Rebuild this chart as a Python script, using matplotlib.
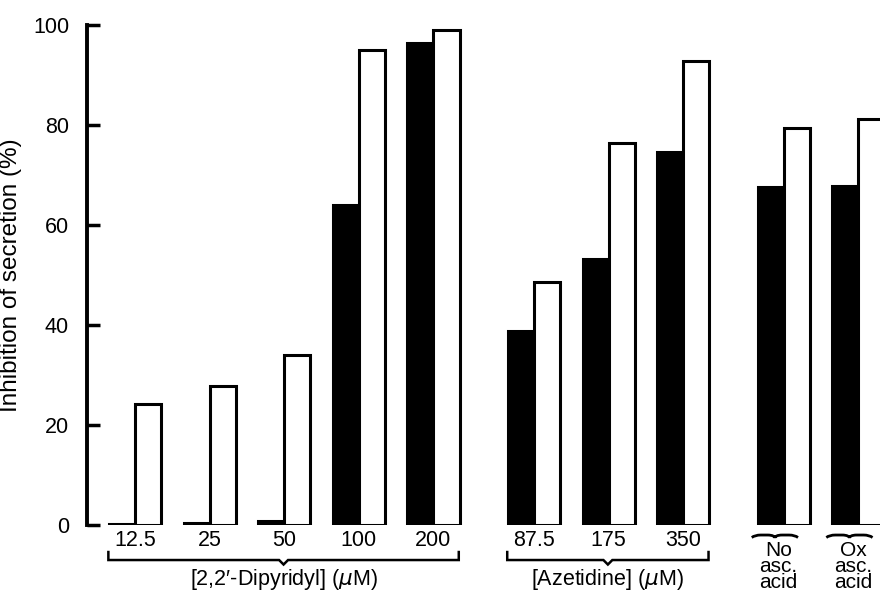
import numpy as np
import matplotlib
matplotlib.use("Agg")
import matplotlib.pyplot as plt
import matplotlib.patches as patches
import matplotlib.path as path

plt.rcParams['font.family'] = ['Liberation Sans', 'DejaVu Sans']

# data
labels = ['12.5', '25', '50', '100', '200', '87.5', '175', '350',
          'No\nasc.\nacid', 'Ox\nasc.\nacid']
black = [0.3, 0.4, 0.8, 64.0, 96.3, 38.9, 53.2, 74.6, 67.7, 67.8]
white = [24.3, 27.9, 34.0, 94.9, 99.0, 48.6, 76.4, 92.7, 79.3, 81.1]
groups = [0, 0, 0, 0, 0, 1, 1, 1, 2, 2]
bracket_names = ['[2,2\u2032-Dipyridyl] ($\\mu$M)', '[Azetidine] ($\\mu$M)']

# layout
gap = 0.35
w = 0.35
pos = np.arange(len(labels)) + gap*np.array(groups)

fig = plt.figure(figsize=(8.8, 5.95), dpi=100)
ax = fig.add_axes([0.099, 0.1176, 0.901, 0.8404])

ax.bar(pos - w/2, black, w, color='black', edgecolor='black', lw=2.2)
ax.bar(pos + w/2, white, w, color='white', edgecolor='black', lw=2.2)

ax.set_xlim(-0.645, 9.99)
ax.set_ylim(0, 100)
ax.set_yticks([0, 20, 40, 60, 80, 100])
ax.tick_params(axis='y', direction='in', length=9, width=2.5, labelsize=15.5, pad=13)
ax.set_xticks([])
for s in ['top', 'right', 'bottom']:
    ax.spines[s].set_visible(False)
ax.spines['left'].set_linewidth(2.8)
ax.set_ylabel('Inhibition of secretion (%)', fontsize=17.5, labelpad=8)

# numeric labels under bars
for i in range(8):
    ax.text(pos[i], -3, labels[i], ha='center', va='center', fontsize=15.5, clip_on=False)

# square brackets with centre notch
for g in [0, 1]:
    idx = [i for i in range(len(labels)) if groups[i] == g]
    x0 = pos[idx[0]] - w - 0.01
    x1 = pos[idx[-1]] + w - 0.01
    xc = (x0 + x1)/2
    ax.plot([x0, x0, xc - 0.06, xc, xc + 0.06, x1, x1],
            [-5.4, -7, -7, -7.9, -7, -7, -5.4],
            color='black', lw=1.8, clip_on=False, solid_joinstyle='miter')
    ax.text(xc, -10.9, bracket_names[g], ha='center', va='center', fontsize=15.5, clip_on=False)

# moustache braces and labels for ascorbic acid groups
for i in range(8, 10):
    xc = pos[i] - 0.12
    hw = 0.31
    y = -2.0
    verts = [(xc - hw, y - 0.5), (xc - hw + 0.04, y), (xc - hw + 0.12, y), (xc - 0.1, y),
             (xc - 0.03, y), (xc, y - 0.3), (xc, y - 0.6),
             (xc, y - 0.3), (xc + 0.03, y), (xc + 0.1, y),
             (xc + hw - 0.12, y), (xc + hw - 0.04, y), (xc + hw, y - 0.5)]
    codes = [path.Path.MOVETO, path.Path.CURVE3, path.Path.CURVE3, path.Path.LINETO,
             path.Path.CURVE4, path.Path.CURVE4, path.Path.CURVE4,
             path.Path.CURVE4, path.Path.CURVE4, path.Path.CURVE4,
             path.Path.LINETO, path.Path.CURVE3, path.Path.CURVE3]
    p = patches.PathPatch(path.Path(verts, codes), facecolor='none', edgecolor='black',
                          lw=2.0, clip_on=False)
    ax.add_patch(p)
    ax.text(pos[i] - 0.07, -3.2, labels[i], ha='center', va='top', fontsize=15,
            linespacing=0.8, clip_on=False)

fig.savefig('out.png', dpi=100)
